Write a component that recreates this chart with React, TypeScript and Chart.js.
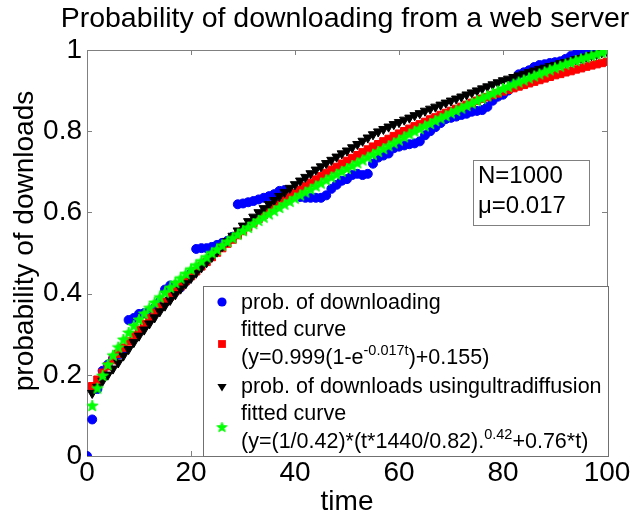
import React, { useEffect, useRef } from 'react';
import { Chart, registerables } from 'chart.js';

Chart.register(...registerables);

const W = 637;
const H = 519;
const FONT = '"Liberation Sans", Arial, Helvetica, sans-serif';

// time steps (t = 0 .. 100)
const time = [
  0, 1, 2, 3, 4, 5, 6, 7, 8, 9, 10, 11, 12, 13, 14, 15, 16, 17, 18, 19, 20,
  21, 22, 23, 24, 25, 26, 27, 28, 29, 30, 31, 32, 33, 34, 35, 36, 37, 38, 39, 40,
  41, 42, 43, 44, 45, 46, 47, 48, 49, 50, 51, 52, 53, 54, 55, 56, 57, 58, 59, 60,
  61, 62, 63, 64, 65, 66, 67, 68, 69, 70, 71, 72, 73, 74, 75, 76, 77, 78, 79, 80,
  81, 82, 83, 84, 85, 86, 87, 88, 89, 90, 91, 92, 93, 94, 95, 96, 97, 98, 99, 100,
];

// blue circles: prob. of downloading (t = 0..100)
const probDownloading = [
  0, 0.09, 0.165, 0.21, 0.225, 0.24, 0.25, 0.26, 0.335, 0.34, 0.35,
  0.352, 0.355, 0.365, 0.38, 0.41, 0.42, 0.42, 0.415, 0.43, 0.45,
  0.51, 0.512, 0.512, 0.515, 0.52, 0.525, 0.53, 0.54, 0.62, 0.622,
  0.625, 0.628, 0.632, 0.636, 0.64, 0.645, 0.653, 0.655, 0.65, 0.642,
  0.638, 0.636, 0.636, 0.636, 0.636, 0.642, 0.658, 0.668, 0.678, 0.682,
  0.692, 0.695, 0.692, 0.695, 0.72, 0.735, 0.74, 0.745, 0.758, 0.762,
  0.765, 0.768, 0.77, 0.775, 0.79, 0.8, 0.81, 0.82, 0.83, 0.833,
  0.836, 0.84, 0.843, 0.848, 0.85, 0.852, 0.86, 0.875, 0.885, 0.89,
  0.9, 0.92, 0.94, 0.945, 0.95, 0.958, 0.963, 0.965, 0.968, 0.97,
  0.972, 0.978, 0.985, 0.99, 0.993, 0.995, 0.997, 1, 1, 1,
];

// red squares: fitted curve (t = 1..100)
const fittedExp = [
  0.172, 0.188, 0.205, 0.221, 0.236, 0.252, 0.267, 0.282, 0.297, 0.311,
  0.325, 0.339, 0.353, 0.367, 0.38, 0.393, 0.406, 0.418, 0.431, 0.443,
  0.455, 0.467, 0.478, 0.49, 0.501, 0.512, 0.523, 0.533, 0.544, 0.554,
  0.564, 0.574, 0.584, 0.594, 0.603, 0.612, 0.621, 0.63, 0.639, 0.648,
  0.656, 0.665, 0.673, 0.681, 0.689, 0.697, 0.705, 0.712, 0.72, 0.727,
  0.734, 0.741, 0.748, 0.755, 0.762, 0.768, 0.775, 0.781, 0.788, 0.794,
  0.8, 0.806, 0.812, 0.817, 0.823, 0.829, 0.834, 0.84, 0.845, 0.85,
  0.855, 0.86, 0.865, 0.87, 0.875, 0.88, 0.884, 0.889, 0.893, 0.898,
  0.902, 0.906, 0.91, 0.914, 0.918, 0.922, 0.926, 0.93, 0.934, 0.938,
  0.941, 0.945, 0.948, 0.952, 0.955, 0.959, 0.962, 0.965, 0.968, 0.971,
];

// black triangles: prob. of downloads using ultradiffusion (t = 1..100)
const probUltradiffusion = [
  0.155, 0.17, 0.185, 0.2, 0.215, 0.23, 0.247, 0.263, 0.28, 0.296,
  0.311, 0.326, 0.341, 0.356, 0.37, 0.384, 0.398, 0.412, 0.425, 0.438,
  0.451, 0.464, 0.477, 0.49, 0.503, 0.516, 0.529, 0.542, 0.555, 0.567,
  0.578, 0.589, 0.6, 0.61, 0.62, 0.63, 0.64, 0.65, 0.66, 0.669,
  0.678, 0.687, 0.696, 0.705, 0.713, 0.721, 0.729, 0.737, 0.745, 0.752,
  0.76, 0.768, 0.776, 0.784, 0.792, 0.799, 0.805, 0.811, 0.817, 0.822,
  0.828, 0.833, 0.839, 0.844, 0.85, 0.855, 0.86, 0.865, 0.87, 0.875,
  0.88, 0.885, 0.89, 0.895, 0.9, 0.905, 0.91, 0.915, 0.92, 0.925,
  0.929, 0.933, 0.937, 0.941, 0.945, 0.949, 0.953, 0.956, 0.96, 0.963,
  0.967, 0.97, 0.973, 0.977, 0.98, 0.983, 0.987, 0.99, 0.994, 0.997,
];

// green stars: fitted curve (t = 1..100)
const fittedPower = [
  0.123, 0.166, 0.197, 0.224, 0.247, 0.267, 0.286, 0.303, 0.32, 0.335,
  0.35, 0.364, 0.377, 0.39, 0.402, 0.414, 0.426, 0.437, 0.448, 0.459,
  0.469, 0.479, 0.489, 0.499, 0.508, 0.518, 0.527, 0.536, 0.545, 0.554,
  0.562, 0.571, 0.579, 0.587, 0.595, 0.603, 0.611, 0.619, 0.626, 0.634,
  0.642, 0.649, 0.656, 0.664, 0.671, 0.679, 0.686, 0.693, 0.7, 0.707,
  0.714, 0.721, 0.728, 0.735, 0.742, 0.749, 0.756, 0.763, 0.77, 0.777,
  0.785, 0.792, 0.799, 0.805, 0.812, 0.818, 0.825, 0.831, 0.837, 0.844,
  0.85, 0.856, 0.862, 0.868, 0.874, 0.88, 0.886, 0.892, 0.898, 0.904,
  0.909, 0.915, 0.92, 0.925, 0.93, 0.935, 0.94, 0.945, 0.95, 0.955,
  0.959, 0.964, 0.968, 0.973, 0.977, 0.981, 0.985, 0.989, 0.993, 0.997,
];

const xTicks = [0, 20, 40, 60, 80, 100];
const xTickLabels = ['0', '20', '40', '60', '80', '100'];
const yTicks = [0, 0.2, 0.4, 0.6, 0.8, 1];
const yTickLabels = ['0', '0.2', '0.4', '0.6', '0.8', '1'];

const titleText = 'Probability of downloading from a web server';
const xTitle = 'time';
const yTitle = 'probability of downloads';
const annotationLines = ['N=1000', 'μ=0.017'];

type Seg = { text: string; sup?: boolean };
const legendRows: Seg[][] = [
  [{ text: 'prob. of downloading' }],
  [{ text: 'fitted curve' }],
  [{ text: '(y=0.999(1-e' }, { text: '-0.017t', sup: true }, { text: ')+0.155)' }],
  [{ text: 'prob. of downloads usingultradiffusion' }],
  [{ text: 'fitted curve' }],
  [{ text: '(y=(1/0.42)*(t*1440/0.82).' }, { text: '0.42', sup: true }, { text: '+0.76*t)' }],
];

const AXIS_GREY = '#808080';

function makeStar(color: string, outer: number, inner: number) {
  const size = Math.ceil(outer * 2) + 2;
  const c = document.createElement('canvas');
  c.width = size;
  c.height = size;
  const g = c.getContext('2d')!;
  g.beginPath();
  for (let i = 0; i < 10; i++) {
    const r = i % 2 ? inner : outer;
    const a = -Math.PI / 2 + (i * Math.PI) / 5;
    g.lineTo(size / 2 + r * Math.cos(a), size / 2 + r * Math.sin(a));
  }
  g.closePath();
  g.fillStyle = color;
  g.fill();
  g.strokeStyle = color;
  g.lineWidth = 1;
  g.stroke();
  return c;
}

export default function App() {
  const ref = useRef<HTMLCanvasElement>(null);

  useEffect(() => {
    const canvas = ref.current!;
    const star = makeStar('#00ff00', 6, 2.5);
    const legendStar = makeStar('#00ff00', 5.3, 2.2);
    const fitTime = time.slice(1);

    const framePlugin = {
      id: 'frame',
      beforeDatasetsDraw(chart: any) {
        const { ctx, chartArea: a, scales } = chart;
        ctx.save();
        ctx.strokeStyle = AXIS_GREY;
        ctx.lineWidth = 1;
        ctx.strokeRect(Math.round(a.left) + 0.5, Math.round(a.top) + 0.5, Math.round(a.right - a.left), Math.round(a.bottom - a.top));
        const tl = 5;
        ctx.beginPath();
        xTicks.forEach((v) => {
          const px = Math.round(scales.x.getPixelForValue(v)) + 0.5;
          ctx.moveTo(px, a.bottom);
          ctx.lineTo(px, a.bottom - tl);
          ctx.moveTo(px, a.top);
          ctx.lineTo(px, a.top + tl);
        });
        yTicks.forEach((v) => {
          const py = Math.round(scales.y.getPixelForValue(v)) + 0.5;
          ctx.moveTo(a.left, py);
          ctx.lineTo(a.left + tl, py);
          ctx.moveTo(a.right, py);
          ctx.lineTo(a.right - tl, py);
        });
        ctx.stroke();
        ctx.restore();
      },
    };

    const drawSegs = (ctx: CanvasRenderingContext2D, segs: Seg[], x: number, y: number, size: number, supSize: number, supRise: number) => {
      let cx = x;
      segs.forEach((s) => {
        if (s.sup) {
          ctx.font = `${supSize}px ${FONT}`;
          ctx.fillText(s.text, cx, y - supRise);
        } else {
          ctx.font = `${size}px ${FONT}`;
          ctx.fillText(s.text, cx, y);
        }
        cx += ctx.measureText(s.text).width;
      });
    };

    const overlayPlugin = {
      id: 'overlay',
      afterDraw(chart: any) {
        const ctx: CanvasRenderingContext2D = chart.ctx;
        const a = chart.chartArea;
        ctx.save();
        ctx.fillStyle = '#000';
        ctx.textBaseline = 'alphabetic';

        // title
        ctx.font = `28.5px ${FONT}`;
        ctx.textAlign = 'center';
        ctx.fillText(titleText, 345, 27);

        // x title
        ctx.font = `28px ${FONT}`;
        ctx.fillText(xTitle, (a.left + a.right) / 2, 510);

        // y title
        ctx.save();
        ctx.translate(33, 241);
        ctx.rotate(-Math.PI / 2);
        ctx.fillText(yTitle, 0, 0);
        ctx.restore();

        // annotation box
        ctx.fillStyle = '#fff';
        ctx.fillRect(473.5, 160.5, 116, 65);
        ctx.strokeStyle = AXIS_GREY;
        ctx.lineWidth = 1;
        ctx.strokeRect(473.5, 160.5, 116, 65);
        ctx.fillStyle = '#000';
        ctx.textAlign = 'left';
        ctx.font = `24px ${FONT}`;
        ctx.fillText(annotationLines[0], 478, 183);
        ctx.fillText(annotationLines[1], 478, 213);

        // legend box
        const lx = 203.5, ly = 286.5, lw = 405, lh = 170;
        ctx.fillStyle = '#fff';
        ctx.fillRect(lx, ly, lw, lh);
        ctx.strokeStyle = '#707070';
        ctx.strokeRect(lx, ly, lw, lh);
        ctx.fillStyle = '#000';
        const baselines = [308.5, 335.5, 364, 392.5, 419.5, 448];
        legendRows.forEach((segs, i) => {
          drawSegs(ctx, segs, 241, baselines[i], 21.5, 14.5, 9);
        });

        // legend markers
        const mx = 222;
        ctx.fillStyle = '#0000ff';
        ctx.beginPath();
        ctx.arc(mx, 302, 4.6, 0, Math.PI * 2);
        ctx.fill();

        ctx.fillStyle = '#ff0000';
        ctx.fillRect(mx - 3.9, 344 - 3.9, 7.8, 7.8);

        ctx.fillStyle = '#000';
        ctx.beginPath();
        ctx.moveTo(mx - 4.6, 384);
        ctx.lineTo(mx + 4.6, 384);
        ctx.lineTo(mx, 391.5);
        ctx.closePath();
        ctx.fill();

        ctx.drawImage(legendStar, mx - legendStar.width / 2, 427.5 - legendStar.height / 2);

        ctx.restore();
      },
    };

    const tickFont = { family: FONT, size: 28 };

    const chart = new Chart(canvas, {
      type: 'scatter',
      data: {
        datasets: [
          {
            label: 'prob. of downloading',
            data: time.map((t, i) => ({ x: t, y: probDownloading[i] })),
            pointStyle: 'circle',
            pointRadius: 4.5,
            pointBackgroundColor: '#0000ff',
            pointBorderColor: '#0000ff',
            pointBorderWidth: 1,
            showLine: false,
            order: 4,
          },
          {
            label: 'fitted curve (exp)',
            data: fitTime.map((t, i) => ({ x: t, y: fittedExp[i] })),
            pointStyle: 'rect',
            pointRadius: 5.2,
            pointBackgroundColor: '#ff0000',
            pointBorderColor: '#ff0000',
            pointBorderWidth: 1,
            showLine: false,
            order: 3,
          },
          {
            label: 'prob. of downloads usingultradiffusion',
            data: fitTime.map((t, i) => ({ x: t, y: probUltradiffusion[i] })),
            pointStyle: 'triangle',
            pointRotation: 180,
            pointRadius: 5.4,
            pointBackgroundColor: '#000000',
            pointBorderColor: '#000000',
            pointBorderWidth: 1,
            showLine: false,
            order: 2,
          },
          {
            label: 'fitted curve (power)',
            data: fitTime.map((t, i) => ({ x: t, y: fittedPower[i] })),
            pointStyle: star as any,
            pointRadius: 6,
            pointBackgroundColor: '#00ff00',
            pointBorderColor: '#00ff00',
            showLine: false,
            order: 1,
          },
        ] as any,
      },
      options: {
        animation: false,
        responsive: false,
        events: [],
        layout: { padding: { left: 0, right: 30, top: 50, bottom: 0 } },
        plugins: {
          legend: { display: false },
          tooltip: { enabled: false },
          title: { display: false },
        },
        scales: {
          x: {
            type: 'linear',
            min: 0,
            max: 100,
            border: { display: false },
            grid: { display: false, drawTicks: false },
            afterBuildTicks: (s: any) => {
              s.ticks = xTicks.map((v) => ({ value: v }));
            },
            afterFit: (s: any) => {
              s.height = 63;
            },
            ticks: {
              font: tickFont,
              color: '#000',
              padding: 0,
              maxRotation: 0,
              autoSkip: false,
              callback: (v: any) => xTickLabels[xTicks.indexOf(Number(v))],
            },
          },
          y: {
            type: 'linear',
            min: 0,
            max: 1,
            border: { display: false },
            grid: { display: false, drawTicks: false },
            afterBuildTicks: (s: any) => {
              s.ticks = yTicks.map((v) => ({ value: v }));
            },
            afterFit: (s: any) => {
              s.width = 87;
            },
            ticks: {
              font: tickFont,
              color: '#000',
              padding: 5,
              autoSkip: false,
              callback: (v: any) => yTickLabels[yTicks.indexOf(Number(v))],
            },
          },
        },
      } as any,
      plugins: [framePlugin, overlayPlugin],
    });

    return () => chart.destroy();
  }, []);

  return (
    <div style={{ position: 'absolute', left: 0, top: 0, width: W, height: H, background: '#fff' }}>
      <canvas ref={ref} width={W} height={H} style={{ display: 'block', width: W, height: H }} />
    </div>
  );
}
